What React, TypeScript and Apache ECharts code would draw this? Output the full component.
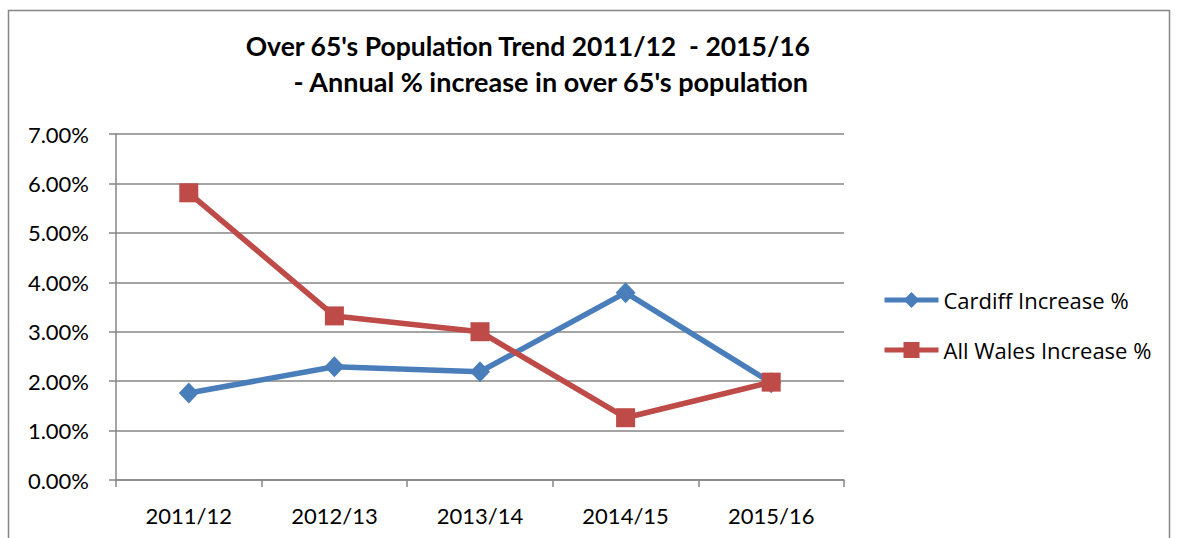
import React, { useEffect, useRef } from "react";
import * as echarts from "echarts";

const categories = ["2011/12", "2012/13", "2013/14", "2014/15", "2015/16"];
const cardiff = [1.76, 2.29, 2.19, 3.79, 1.97];
const allWales = [5.81, 3.32, 3.0, 1.26, 1.98];
const titleLines = [
  "Over 65's Population Trend 2011/12  - 2015/16",
  "- Annual % increase in over 65's population",
];
const seriesNames = ["Cardiff Increase %", "All Wales Increase %"];

const FONT = "Lato, 'Liberation Sans', sans-serif";
const LFONT = "'Open Sans', 'Liberation Sans', sans-serif";
const BLUE = "#4A7EBB";
const RED = "#BE4B48";
const AXIS = "#868686";

export default function App() {
  const ref = useRef<HTMLDivElement>(null);
  useEffect(() => {
    if (!ref.current) return;
    const chart = echarts.init(ref.current, null, { renderer: "svg" });
    chart.setOption({
      animation: false,
      backgroundColor: "#fff",
      graphic: [
        {
          type: "rect",
          shape: { x: 8.5, y: 10.5, width: 1161, height: 540 },
          style: { fill: "none", stroke: AXIS, lineWidth: 1.5 },
          silent: true,
        },
        {
          type: "text",
          x: 810,
          y: 46,
          style: {
            text: titleLines[0],
            align: "right",
            verticalAlign: "middle",
            font: `bold 26.5px ${FONT}`,
            fill: "#000",
          },
        },
        {
          type: "text",
          x: 808,
          y: 81,
          style: {
            text: titleLines[1],
            align: "right",
            verticalAlign: "middle",
            font: `bold 27px ${FONT}`,
            fill: "#000",
          },
        },
      ],
      grid: { left: 116, right: 334, top: 134, bottom: 58, containLabel: false },
      legend: {
        orient: "vertical",
        left: 882,
        top: 289,
        padding: 0,
        itemWidth: 54,
        itemHeight: 20,
        itemGap: 28,
        lineStyle: { width: 5 },
        textStyle: { fontFamily: LFONT, fontSize: 22, color: "#000" },
        data: seriesNames,
      },
      xAxis: {
        type: "category",
        data: categories,
        boundaryGap: true,
        axisLine: { lineStyle: { color: AXIS, width: 1.5 } },
        axisTick: { show: true, length: 7, lineStyle: { color: AXIS, width: 1.5 } },
        axisLabel: { fontFamily: FONT, fontSize: 22, color: "#000", margin: 24 },
      },
      yAxis: {
        type: "value",
        min: 0,
        max: 7,
        interval: 1,
        axisLine: { show: true, lineStyle: { color: AXIS, width: 1.5 } },
        axisTick: { show: true, length: 7, lineStyle: { color: AXIS, width: 1.5 } },
        splitLine: { lineStyle: { color: AXIS, width: 1.5 } },
        axisLabel: {
          fontFamily: FONT,
          fontSize: 22,
          color: "#000",
          margin: 27,
          formatter: (v: number) => v.toFixed(2) + "%",
        },
      },
      series: [
        {
          name: seriesNames[0],
          type: "line",
          data: cardiff,
          symbol: "diamond",
          symbolSize: [20, 21],
          lineStyle: { color: BLUE, width: 5.5 },
          itemStyle: { color: BLUE },
          z: 3,
        },
        {
          name: seriesNames[1],
          type: "line",
          data: allWales,
          symbol: "rect",
          symbolSize: 19,
          lineStyle: { color: RED, width: 5.5 },
          itemStyle: { color: RED },
          z: 4,
        },
      ],
    });
    return () => chart.dispose();
  }, []);
  return <div ref={ref} style={{ width: 1178, height: 538, position: "absolute", left: 0, top: 0 }} />;
}
